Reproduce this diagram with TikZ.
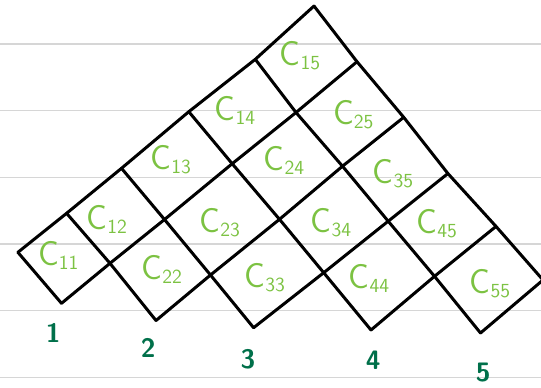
\documentclass[tikz,border=0pt]{standalone}
\usepackage{tikz}

\definecolor{ruleGray}{RGB}{214,214,214}
\definecolor{entryGreen}{RGB}{124,194,66}
\definecolor{indexGreen}{RGB}{0,112,74}

\tikzset{
  ruling/.style={draw=ruleGray, line width=1pt},
  gridline/.style={draw=black, line width=2.25pt, line join=round, line cap=round},
  entry/.style={text=entryGreen, inner sep=0pt, font=\sffamily\fontsize{26}{26}\selectfont},
  index/.style={text=indexGreen, inner sep=0pt, font=\sffamily\bfseries\fontsize{20}{20}\selectfont}
}
\newcommand{\cel}[1]{C\raisebox{-3pt}{\fontsize{15}{15}\selectfont #1}}

\begin{document}
\begin{tikzpicture}[x=0.75pt,y=0.75pt,yscale=-1]
\useasboundingbox (0,0) rectangle (541,387);

%Ruled paper lines
\foreach \yy in {44,110.7,177.3,244,310.8,377.5}
  \draw [ruling] (0,\yy) -- (541,\yy);

%Lattice corners
\coordinate (p00) at (17.9,252.3);
\coordinate (p01) at (66.6,213.3);
\coordinate (p02) at (121.5,168.3);
\coordinate (p03) at (188.8,111.7);
\coordinate (p04) at (255.3,59.3);
\coordinate (p05) at (314,6);
\coordinate (p10) at (61.5,303.3);
\coordinate (p11) at (110,263.3);
\coordinate (p12) at (164.5,219.5);
\coordinate (p13) at (232.2,163.7);
\coordinate (p14) at (296,112.5);
\coordinate (p15) at (357,61.7);
\coordinate (p21) at (156,320.5);
\coordinate (p22) at (210.5,275);
\coordinate (p23) at (279.5,219.3);
\coordinate (p24) at (342.5,166.2);
\coordinate (p25) at (403.7,117.3);
\coordinate (p32) at (253.6,327.7);
\coordinate (p33) at (323.7,272.7);
\coordinate (p34) at (388.2,221.2);
\coordinate (p35) at (447.9,173.5);
\coordinate (p43) at (371,330);
\coordinate (p44) at (434.5,276.3);
\coordinate (p45) at (496,226.4);
\coordinate (p54) at (480.5,333);
\coordinate (p55) at (543,280);

%Lines going up to the right
\draw [gridline] (p00) -- (p01) -- (p02) -- (p03) -- (p04) -- (p05);
\draw [gridline] (p10) -- (p11) -- (p12) -- (p13) -- (p14) -- (p15);
\draw [gridline] (p21) -- (p22) -- (p23) -- (p24) -- (p25);
\draw [gridline] (p32) -- (p33) -- (p34) -- (p35);
\draw [gridline] (p43) -- (p44) -- (p45);
\draw [gridline] (p54) -- (p55);
%Lines going down to the right
\draw [gridline] (p00) -- (p10);
\draw [gridline] (p01) -- (p11) -- (p21);
\draw [gridline] (p02) -- (p12) -- (p22) -- (p32);
\draw [gridline] (p03) -- (p13) -- (p23) -- (p33) -- (p43);
\draw [gridline] (p04) -- (p14) -- (p24) -- (p34) -- (p44) -- (p54);
\draw [gridline] (p05) -- (p15) -- (p25) -- (p35) -- (p45) -- (p55);

% Text Node
\node [entry] (c11) at (58.3,255) {\cel{11}};
\node [entry] (c12) at (106.7,219.3) {\cel{12}};
\node [entry] (c13) at (170.7,160) {\cel{13}};
\node [entry] (c14) at (235,110.7) {\cel{14}};
\node [entry] (c15) at (300,56) {\cel{15}};
\node [entry] (c22) at (161.7,269.3) {\cel{22}};
\node [entry] (c23) at (219.8,222.7) {\cel{23}};
\node [entry] (c24) at (284,160) {\cel{24}};
\node [entry] (c25) at (353.3,115) {\cel{25}};
\node [entry] (c33) at (264.7,277.3) {\cel{33}};
\node [entry] (c34) at (331,222.7) {\cel{34}};
\node [entry] (c35) at (393,173.3) {\cel{35}};
\node [entry] (c44) at (369,278.3) {\cel{44}};
\node [entry] (c45) at (436.7,224) {\cel{45}};
\node [entry] (c55) at (490,283.3) {\cel{55}};

% Text Node
\node [index] (n1) at (53.3,333.3) {1};
\node [index] (n2) at (148.3,348.3) {2};
\node [index] (n3) at (248,359) {3};
\node [index] (n4) at (373.3,360) {4};
\node [index] (n5) at (483.3,372.7) {5};
\end{tikzpicture}
\end{document}
